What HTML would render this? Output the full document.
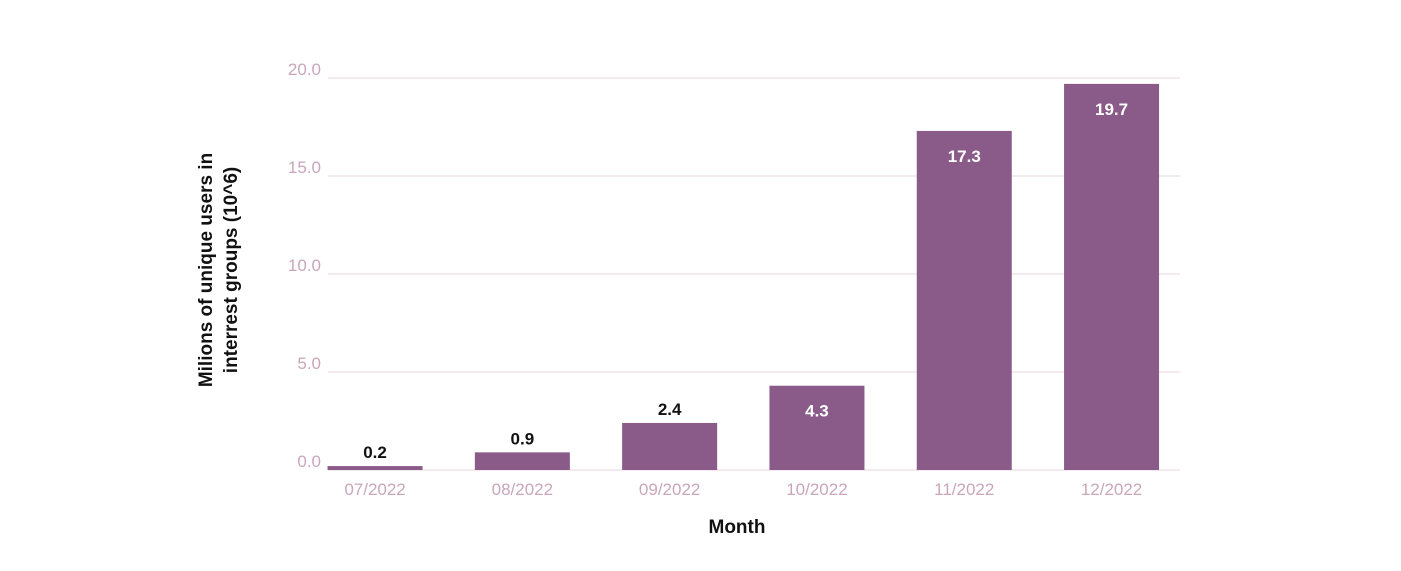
<!DOCTYPE html>
<html><head><meta charset="utf-8"><style>
body{margin:0;background:#fff;}
svg{display:block;font-family:"Liberation Sans",sans-serif;}
</style></head><body>
<svg width="1401" height="571" viewBox="0 0 1401 571">
<g id="grid"></g><g id="bars"></g><g id="labels"></g>
<text x="737" y="533" text-anchor="middle" font-size="19" font-weight="bold" fill="#111">Month</text>
<text transform="translate(212,270) rotate(-90)" text-anchor="middle" font-size="19" font-weight="bold" fill="#111"><tspan x="0" y="0">Milions of unique users in</tspan><tspan x="0" y="25">interrest groups (10^6)</tspan></text>
</svg>
<script>
const categories=["07/2022","08/2022","09/2022","10/2022","11/2022","12/2022"];
const values=[0.2,0.9,2.4,4.3,17.3,19.7];
const yTicks=[0,5,10,15,20];
const NS="http://www.w3.org/2000/svg";
const y0=470,yPerUnit=19.6,bandStart=301.4,band=147.3,barW=95;
const y=v=>y0-v*yPerUnit;
const xc=i=>bandStart+band*(i+0.5);
function mk(t,a,p){const e=document.createElementNS(NS,t);for(const k in a)e.setAttribute(k,a[k]);p.appendChild(e);return e;}
const g=document.getElementById('grid'),b=document.getElementById('bars'),l=document.getElementById('labels');
yTicks.forEach(t=>{
 const ln=mk('line',{x1:328,x2:1180,y1:y(t),y2:y(t),stroke:'#e6d6de','stroke-width':1},g);
 
 
 const tx=mk('text',{x:321,y:y(t)-3,'text-anchor':'end','font-size':17,fill:'#c9a6ba'},g);
 tx.textContent=t.toFixed(1);
 
 
});
categories.forEach((c,i)=>{
 const v=values[i];
 const r=mk('rect',{x:xc(i)-barW/2,y:y(v),width:barW,height:y0-y(v),fill:'#8a5a88'},b);
 
 
 const inside=(y0-y(v))>60;
 const vt=mk('text',{x:xc(i),y:inside?y(v)+31:y(v)-8,'text-anchor':'middle','font-size':17,'font-weight':'bold',fill:inside?'#fff':'#111'},l);
 vt.textContent=v.toFixed(1);
 
 
 const xt=mk('text',{x:xc(i),y:495,'text-anchor':'middle','font-size':17,fill:'#c9a6ba'},l);
 xt.textContent=c;
 
 
});
</script>
</body></html>
